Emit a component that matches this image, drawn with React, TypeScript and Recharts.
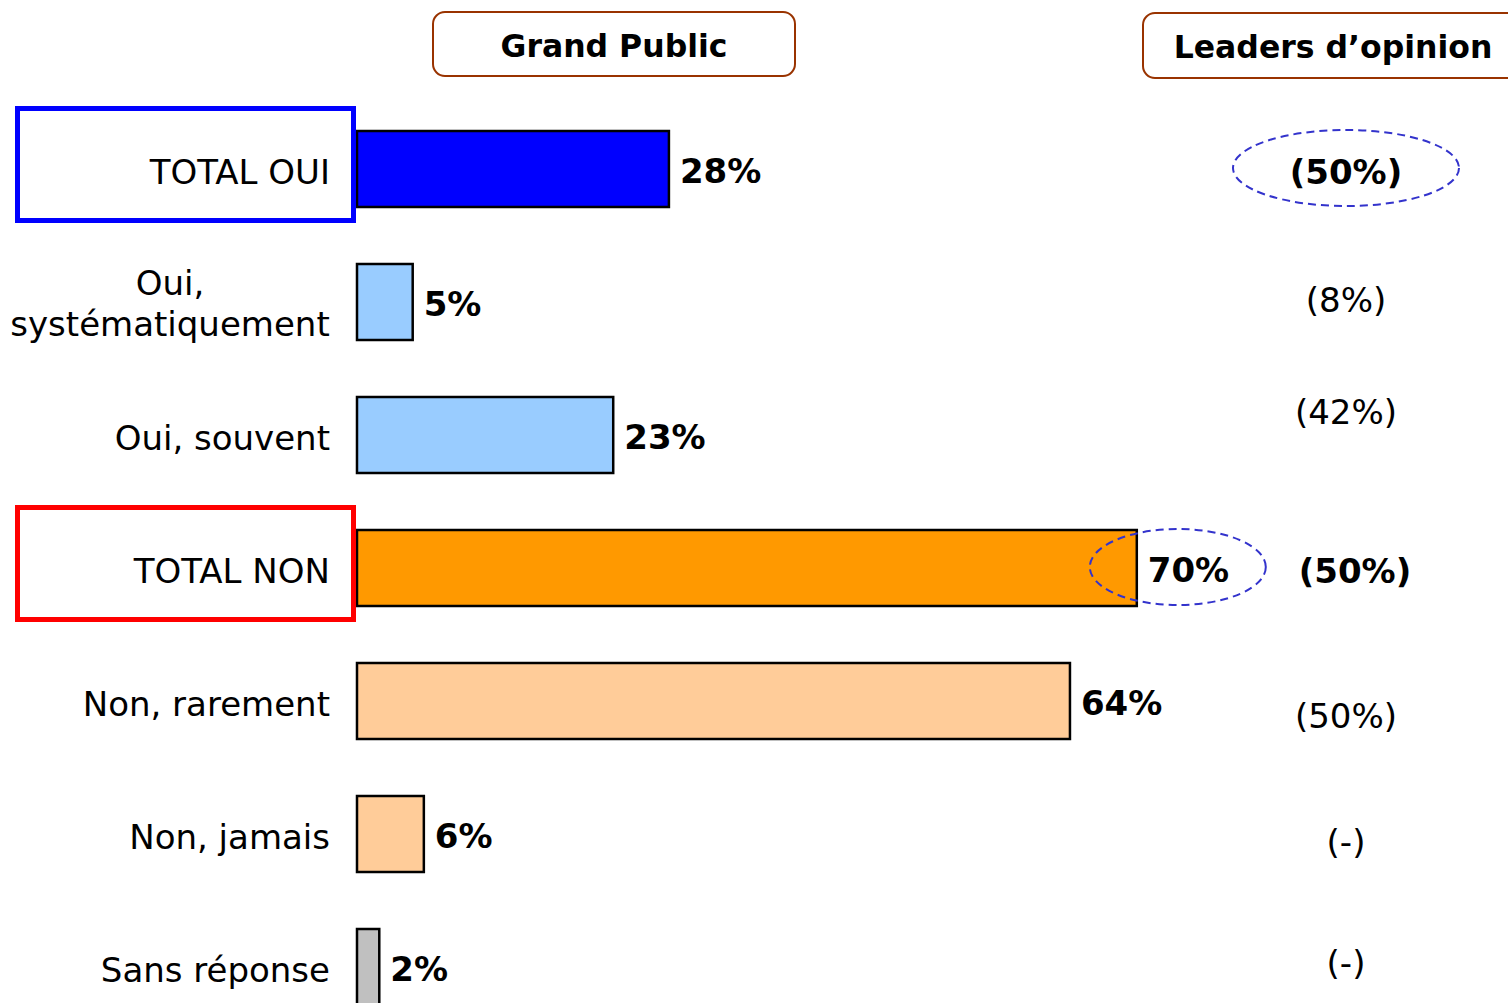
import { Bar, BarChart, Cell, LabelList, XAxis, YAxis } from 'recharts';

const categories = [
  'TOTAL OUI',
  'Oui, systématiquement',
  'Oui, souvent',
  'TOTAL NON',
  'Non, rarement',
  'Non, jamais',
  'Sans réponse',
];
const grandPublic = [28, 5, 23, 70, 64, 6, 2];
const leaders = ['(50%)', '(8%)', '(42%)', '(50%)', '(50%)', '(-)', '(-)'];
const leaderBold = [true, false, false, true, false, false, false];
const barColors = ['#0000FF', '#99CCFF', '#99CCFF', '#FF9900', '#FFCC99', '#FFCC99', '#C0C0C0'];

// layout tweaks for the right-hand column (vertical nudge, horizontal nudge)
const leaderDy = [15, 10, -11, 15, 27, 20, 8];
const leaderDx = [0, 0, 0, 9, 0, 0, 0];

const data = categories.map((name, i) => ({
  name,
  value: grandPublic[i],
  leader: leaders[i],
}));

const FONT = '"DejaVu Sans", Verdana, sans-serif';
const AXIS_W = 357;
const LEADER_X = 1346;
const FS = 34;

function CategoryTick(props: any) {
  const { y, payload } = props;
  const text: string = payload.value;
  const right = AXIS_W - 27;
  const boxColor = text === 'TOTAL OUI' ? '#0000FF' : text === 'TOTAL NON' ? '#FF0000' : null;
  const box = boxColor ? (
    <rect x={17.5} y={y - 60} width={336} height={112} fill="none" stroke={boxColor} strokeWidth={5} />
  ) : null;
  if (text.length > 15 && text.includes(', ')) {
    const [a, b] = text.split(', ');
    return (
      <g>
        <text x={170} y={y - 7} textAnchor="middle" fontFamily={FONT} fontSize={FS} fill="#000">
          {a + ','}
        </text>
        <text x={170} y={y + 34} textAnchor="middle" fontFamily={FONT} fontSize={FS} fill="#000">
          {b}
        </text>
      </g>
    );
  }
  return (
    <g>
      {box}
      <text x={right} y={y + 15} textAnchor="end" fontFamily={FONT} fontSize={FS} fill="#000">
        {text}
      </text>
    </g>
  );
}

function ValueLabel(props: any) {
  const { x, y, width, height, value, index } = props;
  const end = x + width;
  const cy = y + height / 2;
  return (
    <g>
      {index === 3 && (
        <ellipse
          cx={end + 41}
          cy={cy - 1}
          rx={88}
          ry={38}
          fill="none"
          stroke="#3333CC"
          strokeWidth={2}
          strokeDasharray="8 5"
        />
      )}
      <text x={end + 11} y={cy + 14} fontFamily={FONT} fontSize={FS} fontWeight="bold" fill="#000">
        {`${value}%`}
      </text>
    </g>
  );
}

function LeaderLabel(props: any) {
  const { y, height, value, index } = props;
  const cy = y + height / 2;
  const cx = LEADER_X + leaderDx[index];
  return (
    <g>
      {index === 0 && (
        <ellipse
          cx={cx}
          cy={cy - 1}
          rx={113}
          ry={38}
          fill="none"
          stroke="#3333CC"
          strokeWidth={2}
          strokeDasharray="8 5"
        />
      )}
      <text
        x={cx}
        y={cy + leaderDy[index]}
        textAnchor="middle"
        fontFamily={FONT}
        fontSize={FS}
        fontWeight={leaderBold[index] ? 'bold' : 'normal'}
        fill="#000"
      >
        {value}
      </text>
    </g>
  );
}

export default function App() {
  return (
    <div
      style={{
        position: 'absolute',
        left: 0,
        top: 0,
        width: 1508,
        height: 1003,
        overflow: 'hidden',
        background: '#fff',
      }}
    >
      <BarChart
        width={1508}
        height={1033}
        data={data}
        layout="vertical"
        margin={{ top: 102, right: 37, bottom: 0, left: 0 }}
      >
        <XAxis type="number" domain={[0, 100]} hide />
        <YAxis
          type="category"
          dataKey="name"
          width={AXIS_W}
          axisLine={false}
          tickLine={false}
          tick={<CategoryTick />}
          interval={0}
        />
        <Bar dataKey="value" barSize={76} stroke="#000" strokeWidth={2.5} isAnimationActive={false}>
          {data.map((d, i) => (
            <Cell key={d.name} fill={barColors[i]} />
          ))}
          <LabelList dataKey="value" content={<ValueLabel />} />
          <LabelList dataKey="leader" content={<LeaderLabel />} />
        </Bar>
      </BarChart>

      <svg width={1508} height={100} style={{ position: 'absolute', left: 0, top: 0 }}>
        <rect x={433} y={12} width={362} height={64} rx={12} fill="#fff" stroke="#993300" strokeWidth={2} />
        <text x={614} y={57} textAnchor="middle" fontFamily={FONT} fontSize={31.5} fontWeight="bold" fill="#000">
          Grand Public
        </text>
        <rect x={1143} y={13} width={380} height={65} rx={12} fill="#fff" stroke="#993300" strokeWidth={2} />
        <text x={1333} y={58} textAnchor="middle" fontFamily={FONT} fontSize={31.5} fontWeight="bold" fill="#000">
          Leaders d’opinion
        </text>
      </svg>
    </div>
  );
}
